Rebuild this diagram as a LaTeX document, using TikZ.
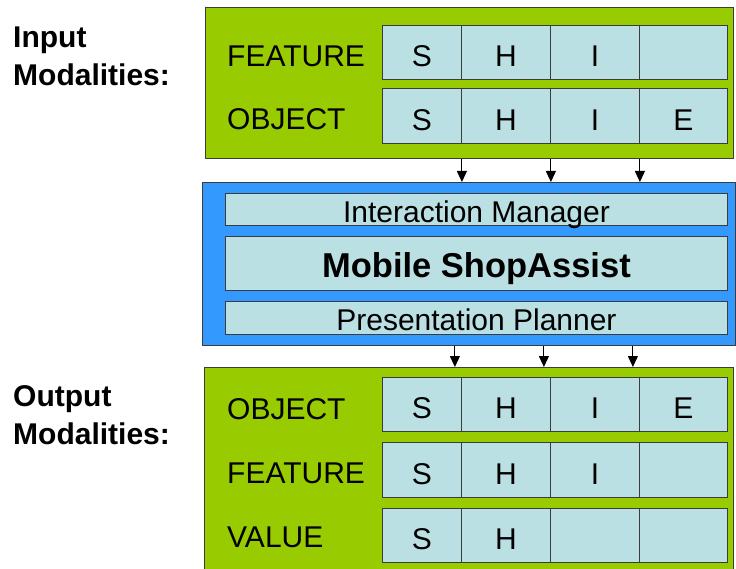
\documentclass[tikz,border=0pt]{standalone}
\usepackage{fontspec}
\setmainfont{Liberation Sans}
\usetikzlibrary{arrows.meta}

\definecolor{modgreen}{RGB}{153,204,0}
\definecolor{coreblue}{RGB}{51,153,255}
\definecolor{cellblue}{RGB}{187,224,227}
\definecolor{edgegray}{RGB}{60,60,60}

\tikzset{
  panel/.style={draw=edgegray, line width=1pt, inner sep=0pt, anchor=north west},
  cell/.style={draw=edgegray, fill=cellblue, line width=0.9pt, inner sep=0pt,
    anchor=north west, text height=29pt, text depth=0pt,
    font=\fontsize{30}{34}\selectfont},
  rowlabel/.style={anchor=base west, inner sep=0pt, font=\fontsize{30}{34}\selectfont},
  sidelabel/.style={anchor=base west, inner sep=0pt, align=left,
    font=\fontsize{30}{38}\selectfont\bfseries},
  flow/.style={line width=1pt, -{Triangle[length=11pt,width=10pt]}},
}

\begin{document}
\begin{tikzpicture}[x=1pt, y=-1pt]
  \useasboundingbox (0,0) rectangle (736,569);

  % Side labels
  \node[sidelabel] (inlabel) at (13,86) {Input\\Modalities:};
  \node[sidelabel] (outlabel) at (13,444) {Output\\Modalities:};

  % Input block
  \node[panel, fill=modgreen, minimum width=528, minimum height=151] (inbox) at (205,7) {};
  \node[rowlabel] (infeatlbl) at (227,67) {FEATURE};
  \node[rowlabel] (inobjlbl) at (227,130) {OBJECT};
  \foreach \l/\x/\w [count=\i] in {S/382/79, H/461/89, I/550/89, {}/639/88} {
    \node[cell, minimum width=\w, minimum height=54] (infeat\i) at (\x,25) {\l};
  }
  \foreach \l/\x/\w [count=\i] in {S/382/79, H/461/89, I/550/89, E/639/88} {
    \node[cell, minimum width=\w, minimum height=55] (inobj\i) at (\x,88) {\l};
  }

  % Core block
  \node[panel, fill=coreblue, minimum width=533, minimum height=163] (core) at (202,182) {};
  \node[cell, minimum width=502, minimum height=32, text height=27pt] (im) at (225,193) {Interaction Manager};
  \node[cell, minimum width=502, minimum height=54, text height=28pt,
    font=\fontsize{34.5}{40}\selectfont\bfseries] (msa) at (225,236) {Mobile ShopAssist};
  \node[cell, minimum width=502, minimum height=33, text height=26pt] (pp) at (225,301) {Presentation Planner};

  % Output block
  \node[panel, fill=modgreen, minimum width=529, minimum height=215] (outbox) at (204,367) {};
  \node[rowlabel] (outobjlbl) at (227,419) {OBJECT};
  \node[rowlabel] (outfeatlbl) at (227,483) {FEATURE};
  \node[rowlabel] (outvallbl) at (227,547) {VALUE};
  \foreach \l/\x/\w [count=\i] in {S/382/79, H/461/89, I/550/89, E/639/88} {
    \node[cell, minimum width=\w, minimum height=54] (outobj\i) at (\x,377) {\l};
  }
  \foreach \l/\x/\w [count=\i] in {S/382/79, H/461/89, I/550/89, {}/639/88} {
    \node[cell, minimum width=\w, minimum height=55] (outfeat\i) at (\x,442) {\l};
  }
  \foreach \l/\x/\w [count=\i] in {S/382/79, H/461/89, {}/550/89, {}/639/88} {
    \node[cell, minimum width=\w, minimum height=54] (outval\i) at (\x,508) {\l};
  }

  % Arrows
  \foreach \i in {1,2,3} {
    \draw[flow] (inobj\i.south east |- inbox.south) -- (inobj\i.south east |- core.north);
    \draw[flow] ([xshift=-7pt]outobj\i.north east |- core.south)
      -- ([xshift=-7pt]outobj\i.north east |- outbox.north);
  }
\end{tikzpicture}
\end{document}
